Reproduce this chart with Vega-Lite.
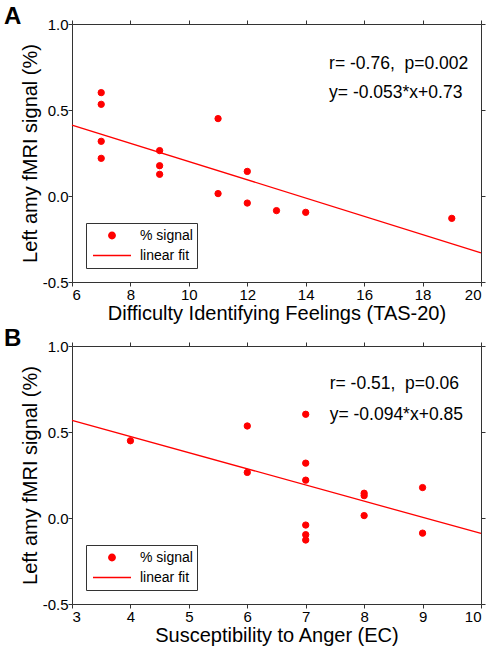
{
  "$schema": "https://vega.github.io/schema/vega-lite/v6.json",
  "background": "white",
  "padding": {"left": 3, "top": 4, "right": 5, "bottom": 0},
  "bounds": "flush",
  "spacing": 64,
  "resolve": {"legend": {"shape": "independent", "size": "independent"}, "scale": {"shape": "independent", "size": "independent"}},
  "datasets": {
    "a_pts": [
      {"x": 7, "y": 0.601, "series": "% signal"},
      {"x": 7, "y": 0.533, "series": "% signal"},
      {"x": 7, "y": 0.318, "series": "% signal"},
      {"x": 7, "y": 0.219, "series": "% signal"},
      {"x": 9, "y": 0.264, "series": "% signal"},
      {"x": 9, "y": 0.176, "series": "% signal"},
      {"x": 9, "y": 0.126, "series": "% signal"},
      {"x": 11, "y": 0.450, "series": "% signal"},
      {"x": 11, "y": 0.014, "series": "% signal"},
      {"x": 12, "y": 0.143, "series": "% signal"},
      {"x": 12, "y": -0.041, "series": "% signal"},
      {"x": 13, "y": -0.085, "series": "% signal"},
      {"x": 14, "y": -0.095, "series": "% signal"},
      {"x": 19, "y": -0.130, "series": "% signal"}
    ],
    "a_fit": [
      {"x": 6, "y": 0.412},
      {"x": 20, "y": -0.33}
    ],
    "a_txt": [
      {"x": 14.8, "y": 0.768, "label": "r= -0.76,\u00a0 p=0.002"},
      {"x": 14.8, "y": 0.598, "label": "y= -0.053*x+0.73"}
    ],
    "b_pts": [
      {"x": 4, "y": 0.449, "series": "% signal"},
      {"x": 6, "y": 0.535, "series": "% signal"},
      {"x": 6, "y": 0.265, "series": "% signal"},
      {"x": 7, "y": 0.603, "series": "% signal"},
      {"x": 7, "y": 0.319, "series": "% signal"},
      {"x": 7, "y": 0.220, "series": "% signal"},
      {"x": 7, "y": -0.041, "series": "% signal"},
      {"x": 7, "y": -0.097, "series": "% signal"},
      {"x": 7, "y": -0.128, "series": "% signal"},
      {"x": 8, "y": 0.144, "series": "% signal"},
      {"x": 8, "y": 0.130, "series": "% signal"},
      {"x": 8, "y": 0.014, "series": "% signal"},
      {"x": 9, "y": 0.177, "series": "% signal"},
      {"x": 9, "y": -0.088, "series": "% signal"}
    ],
    "b_fit": [
      {"x": 3, "y": 0.568},
      {"x": 10, "y": -0.09}
    ],
    "b_txt": [
      {"x": 7.41, "y": 0.778, "label": "r= -0.51,\u00a0 p=0.06"},
      {"x": 7.41, "y": 0.598, "label": "y= -0.094*x+0.85"}
    ]
  },
  "config": {
    "font": "Liberation Sans",
    "view": {"stroke": "#333", "strokeWidth": 1},
    "axis": {
      "grid": false, "domain": false, "ticks": true, "tickColor": "#333", "tickSize": 4, "tickWidth": 1,
      "labelFontSize": 15, "labelColor": "black", "labelFont": "Liberation Sans",
      "titleFontSize": 20, "titleFontWeight": "normal", "titleColor": "black", "titleFont": "Liberation Sans"
    },
    "axisX": {"titlePadding": 1, "labelPadding": 1},
    "axisY": {"titlePadding": 1.5, "labelPadding": 0},
    "legend": {
      "orient": "bottom-left", "offset": 14, "title": null,
      "strokeColor": "#333", "fillColor": "white", "padding": 4,
      "labelFontSize": 14, "labelFont": "Liberation Sans", "labelColor": "black",
      "labelOffset": 8, "rowPadding": 3, "symbolOffset": 2, "clipHeight": 17
    },
    "title": {"font": "Liberation Sans", "fontSize": 24, "fontWeight": "bold", "color": "black"}
  },
  "vconcat": [
    {
      "width": 409, "height": 258,
      "title": {"text": "A", "anchor": "start", "frame": "group", "dx": -68, "baseline": "top", "offset": -12},
      "resolve": {"axis": {"x": "independent", "y": "independent"}},
      "layer": [
        {
          "data": {"name": "a_pts"},
          "mark": {"type": "point", "filled": false, "fill": "red", "stroke": "red", "strokeWidth": 1, "opacity": 1, "fillOpacity": 1},
          "encoding": {
            "x": {"field": "x", "type": "quantitative", "scale": {"domain": [6, 20], "nice": false, "zero": false},
                  "axis": {"orient": "bottom", "values": [6, 8, 10, 12, 14, 16, 18, 20], "format": "d", "title": "Difficulty Identifying Feelings (TAS-20)"}},
            "y": {"field": "y", "type": "quantitative", "scale": {"domain": [-0.5, 1], "nice": false, "zero": false},
                  "axis": {"orient": "left", "values": [-0.5, 0, 0.5, 1], "title": "Left amy fMRI signal (%)",
                           "labelExpr": "datum.value < 0 ? '-' + format(-datum.value, '.1f') : format(datum.value, '.1f')"}},
            "shape": {"field": "series", "type": "nominal",
                      "scale": {"domain": ["% signal", "linear fit"], "range": ["circle", "stroke"]},
                      "legend": {"orient": "bottom-left", "offset": 14, "title": null}},
            "size": {"field": "series", "type": "nominal",
                     "scale": {"domain": ["% signal", "linear fit"], "range": [40, 1444]},
                     "legend": {"orient": "bottom-left", "offset": 14, "title": null}}
          }
        },
        {
          "data": {"name": "a_fit"},
          "mark": {"type": "line", "color": "red", "strokeWidth": 1.3},
          "encoding": {
            "x": {"field": "x", "type": "quantitative", "axis": null},
            "y": {"field": "y", "type": "quantitative", "axis": null}
          }
        },
        {
          "data": {"name": "a_txt"},
          "mark": {"type": "text", "align": "left", "baseline": "middle", "fontSize": 17.5, "color": "black"},
          "encoding": {
            "x": {"field": "x", "type": "quantitative", "axis": null},
            "y": {"field": "y", "type": "quantitative", "axis": null},
            "text": {"field": "label"}
          }
        },
        {
          "data": {"name": "a_fit"},
          "mark": {"type": "point", "opacity": 0},
          "encoding": {
            "x": {"field": "x", "type": "quantitative", "axis": {"orient": "top", "values": [6, 8, 10, 12, 14, 16, 18, 20], "labels": false, "title": null}},
            "y": {"field": "y", "type": "quantitative", "axis": {"orient": "right", "values": [-0.5, 0, 0.5, 1], "labels": false, "title": null}}
          }
        }
      ]
    },
    {
      "width": 409, "height": 258,
      "title": {"text": "B", "anchor": "start", "frame": "group", "dx": -68, "baseline": "top", "offset": -12},
      "resolve": {"axis": {"x": "independent", "y": "independent"}},
      "layer": [
        {
          "data": {"name": "b_pts"},
          "mark": {"type": "point", "filled": false, "fill": "red", "stroke": "red", "strokeWidth": 1, "opacity": 1, "fillOpacity": 1},
          "encoding": {
            "x": {"field": "x", "type": "quantitative", "scale": {"domain": [3, 10], "nice": false, "zero": false},
                  "axis": {"orient": "bottom", "values": [3, 4, 5, 6, 7, 8, 9, 10], "format": "d", "title": "Susceptibility to Anger (EC)"}},
            "y": {"field": "y", "type": "quantitative", "scale": {"domain": [-0.5, 1], "nice": false, "zero": false},
                  "axis": {"orient": "left", "values": [-0.5, 0, 0.5, 1], "title": "Left amy fMRI signal (%)",
                           "labelExpr": "datum.value < 0 ? '-' + format(-datum.value, '.1f') : format(datum.value, '.1f')"}},
            "shape": {"field": "series", "type": "nominal",
                      "scale": {"domain": ["% signal", "linear fit"], "range": ["circle", "stroke"]},
                      "legend": {"orient": "bottom-left", "offset": 14, "title": null}},
            "size": {"field": "series", "type": "nominal",
                     "scale": {"domain": ["% signal", "linear fit"], "range": [40, 1444]},
                     "legend": {"orient": "bottom-left", "offset": 14, "title": null}}
          }
        },
        {
          "data": {"name": "b_fit"},
          "mark": {"type": "line", "color": "red", "strokeWidth": 1.3},
          "encoding": {
            "x": {"field": "x", "type": "quantitative", "axis": null},
            "y": {"field": "y", "type": "quantitative", "axis": null}
          }
        },
        {
          "data": {"name": "b_txt"},
          "mark": {"type": "text", "align": "left", "baseline": "middle", "fontSize": 17.5, "color": "black"},
          "encoding": {
            "x": {"field": "x", "type": "quantitative", "axis": null},
            "y": {"field": "y", "type": "quantitative", "axis": null},
            "text": {"field": "label"}
          }
        },
        {
          "data": {"name": "b_fit"},
          "mark": {"type": "point", "opacity": 0},
          "encoding": {
            "x": {"field": "x", "type": "quantitative", "axis": {"orient": "top", "values": [3, 4, 5, 6, 7, 8, 9, 10], "labels": false, "title": null}},
            "y": {"field": "y", "type": "quantitative", "axis": {"orient": "right", "values": [-0.5, 0, 0.5, 1], "labels": false, "title": null}}
          }
        }
      ]
    }
  ]
}
